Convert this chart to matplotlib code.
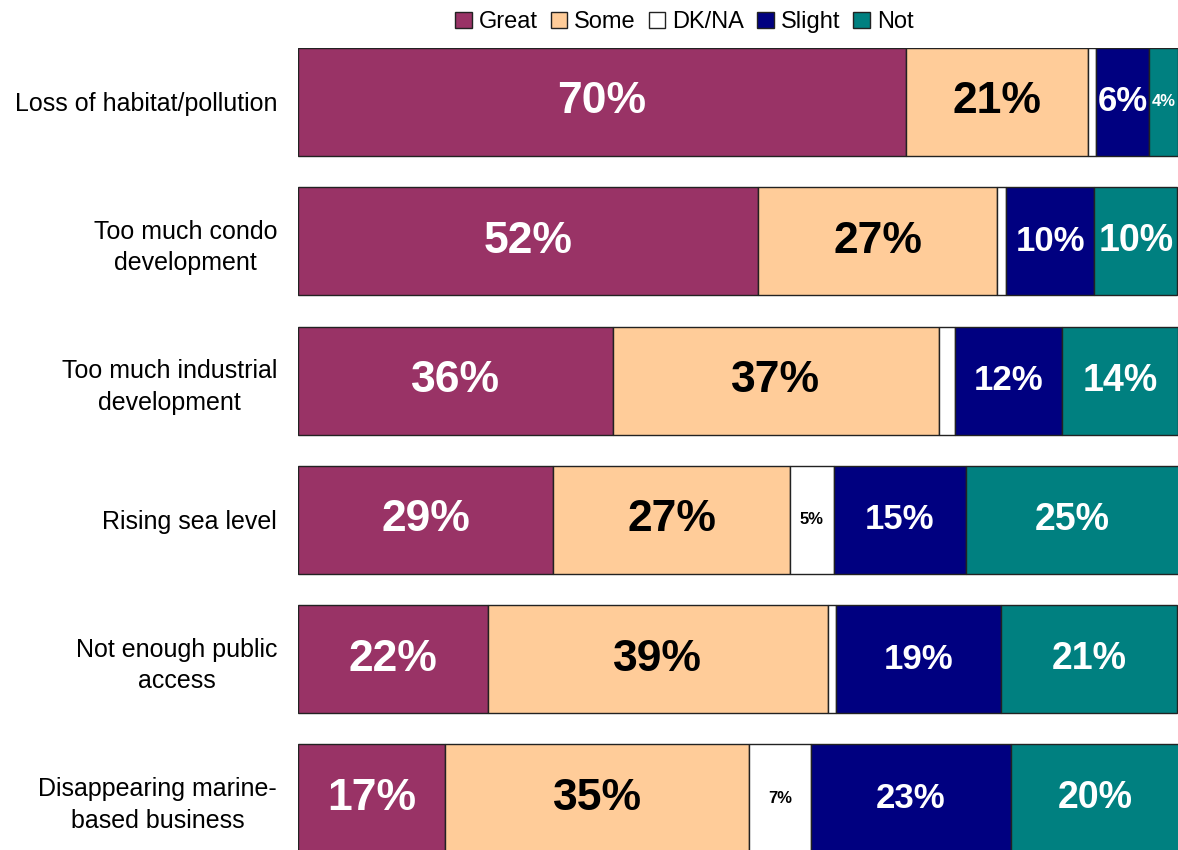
import matplotlib.pyplot as plt
import numpy as np

plt.rcParams['font.family'] = ['Liberation Sans', 'DejaVu Sans']

categories = ["Loss of habitat/pollution", "Too much condo\ndevelopment",
              "Too much industrial\ndevelopment", "Rising sea level",
              "Not enough public\naccess", "Disappearing marine-\nbased business"]
series_names = ["Great", "Some", "DK/NA", "Slight", "Not"]

# shares (percent)
great = [69.1, 52.3, 35.8, 29.0, 21.6, 16.7]
some = [20.7, 27.1, 37.0, 26.9, 38.6, 34.6]
dkna = [0.9, 1.1, 1.9, 5.0, 0.9, 7.0]
slight = [6.0, 10.0, 12.1, 15.0, 18.8, 22.7]
not_ = [3.3, 9.4, 13.2, 24.2, 20.0, 19.1]

# printed labels
great_lbl = ["70%", "52%", "36%", "29%", "22%", "17%"]
some_lbl = ["21%", "27%", "37%", "27%", "39%", "35%"]
dkna_lbl = ["", "", "", "5%", "", "7%"]
slight_lbl = ["6%", "10%", "12%", "15%", "19%", "23%"]
not_lbl = ["4%", "10%", "14%", "25%", "21%", "20%"]

colors = ["#993366", "#FFCC99", "#FFFFFF", "#000080", "#008080"]
text_colors = ["white", "black", "black", "white", "white"]
label_sizes = [32, 32, 12, 25, 27]

fig = plt.figure(figsize=(11.78, 8.5), dpi=100)
ax = fig.add_axes([298 / 1178, 0, 880 / 1178, 802 / 850])

y = np.arange(len(categories))
left = np.zeros(len(categories))
all_vals = [great, some, dkna, slight, not_]
all_lbls = [great_lbl, some_lbl, dkna_lbl, slight_lbl, not_lbl]
for k, (vals, lbls) in enumerate(zip(all_vals, all_lbls)):
    bars = ax.barh(y, vals, left=left, height=0.775, color=colors[k], edgecolor="#222222",
                   linewidth=1.0, label=series_names[k])
    for i, b in enumerate(bars):
        if lbls[i] == "":
            continue
        w = b.get_width()
        fs = label_sizes[k] if w > 5 else 12
        ax.text(b.get_x() + w / 2, b.get_y() + b.get_height() / 2, lbls[i],
                ha="center", va="center", color=text_colors[k], fontsize=fs,
                fontweight="bold")
    left = left + np.array(vals)

ax.set_xlim(0, 100)
ax.set_ylim(5.37, -0.3875)
ax.set_yticks(y)
ax.set_yticklabels(categories, fontsize=18, multialignment="center", linespacing=1.4)
ax.tick_params(axis="y", length=0, pad=15)
ax.set_xticks([])
for s in ax.spines.values():
    s.set_visible(False)

fig.legend(loc="center", bbox_to_anchor=(0.581, 0.974), ncol=5, frameon=False,
           fontsize=17, handlelength=0.7, handleheight=0.7, handletextpad=0.3,
           columnspacing=0.55, borderaxespad=0)

fig.savefig("out.png", dpi=100)
